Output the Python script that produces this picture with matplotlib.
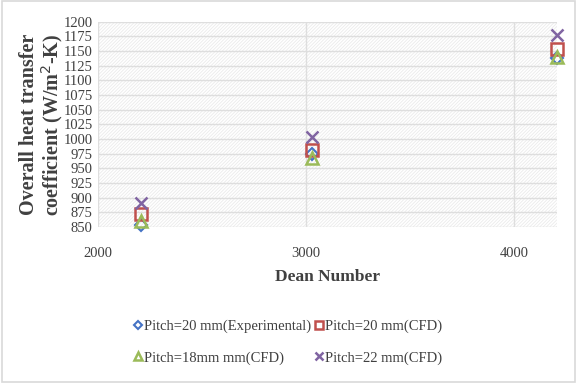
import matplotlib.pyplot as plt
import matplotlib.patches as mpatches
import numpy as np

plt.rcParams['font.family'] = ['Liberation Serif', 'DejaVu Serif']
plt.rcParams['hatch.linewidth'] = 0.6

# Dean numbers and heat transfer coefficients (W/m2-K)
dean = [2207, 3029, 4205]
exp_20 = [853, 975, 1138]
cfd_20 = [872, 981, 1154]
cfd_18 = [860, 968, 1140]
cfd_22 = [891, 1004, 1178]

yticks = list(range(850, 1201, 25))
xticks = [2000, 3000, 4000]

fig = plt.figure(figsize=(5.77, 3.83), dpi=100)
fig.patches.append(mpatches.Rectangle((0.003, 0.003), 0.994, 0.994, transform=fig.transFigure,
                                      fill=False, edgecolor='#d9d9d9', linewidth=1.2))

ax = fig.add_axes([0.170, 0.407, 0.795, 0.536])
# hatched plot area background
bg = mpatches.Rectangle((0, 0), 1, 1, transform=ax.transAxes, facecolor='white',
                        edgecolor='#ebebeb', linewidth=0, hatch='//////////', zorder=0)
ax.add_patch(bg)

ms = 9
h1, = ax.plot(dean, exp_20, linestyle='none', marker='D', markersize=6, mfc='none', mec='#4472C4', mew=1.5)
h2, = ax.plot(dean, cfd_20, linestyle='none', marker='s', markersize=ms, mfc='none', mec='#C0504D', mew=1.8)
h3, = ax.plot(dean, cfd_18, linestyle='none', marker='^', markersize=ms, mfc='none', mec='#9BBB59', mew=1.8)
h4, = ax.plot(dean, cfd_22, linestyle='none', marker='x', markersize=ms - 1, mec='#8064A2', mew=1.8)
for h in (h1, h2, h3, h4):
    h.set_clip_on(False)
    h.set_zorder(3)

ax.set_xlim(2000, 4205)
ax.set_ylim(850, 1200)
ax.set_yticks(yticks)
ax.set_xticks(xticks)
ax.tick_params(length=0, labelsize=10.5, colors='#404040', pad=4)
ax.tick_params(axis='x', pad=14)
ax.grid(True, color='#dedede', linewidth=1, zorder=1)
ax.set_axisbelow(True)
for s in ax.spines.values():
    s.set_visible(False)

ax.set_xlabel('Dean Number', fontsize=12.5, fontweight='bold', color='#404040', labelpad=7)
fig.text(0.072, 0.675, 'Overall heat transfer\ncoefficient (W/m$^2$-K)', rotation=90,
         ha='center', va='center', fontsize=14.5, fontweight='bold', color='#404040',
         linespacing=1.0)

labels = ['Pitch=20 mm(Experimental)', 'Pitch=20 mm(CFD)', 'Pitch=18mm mm(CFD)', 'Pitch=22 mm(CFD)']
handles = [h1, h2, h3, h4]
order = [0, 2, 1, 3]
leg = fig.legend([handles[i] for i in order], [labels[i] for i in order],
                 loc='center', bbox_to_anchor=(0.5, 0.107), ncol=2, frameon=False,
                 fontsize=10.5, handlelength=0.5, handletextpad=0.15, columnspacing=0.3,
                 labelspacing=1.25, markerscale=0.7)
for t in leg.get_texts():
    t.set_color('#404040')

fig.savefig('out.png', dpi=100)
